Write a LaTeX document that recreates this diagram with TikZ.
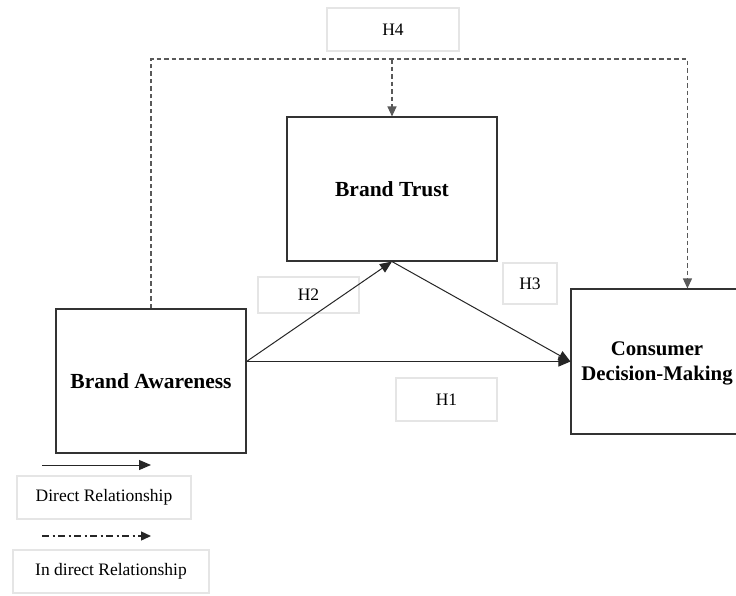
\documentclass[tikz,border=0pt]{standalone}
\usepackage{fontspec}
\setmainfont{Liberation Serif}
\usetikzlibrary{arrows.meta,calc}
\tikzset{
  mainbox/.style={draw=black!80, line width=1.1pt, fill=white, inner sep=0pt, align=center,
    font=\fontsize{21.5}{25}\selectfont\bfseries},
  maintext/.style={inner sep=0pt, align=center, font=\fontsize{20.8}{25}\selectfont\bfseries},
  labbox/.style={draw=black!10, line width=1.6pt, fill=white, inner sep=0pt, align=center,
    font=\fontsize{17.5}{21}\selectfont},
  solidarrow/.style={draw=black!85, line width=1pt, -{Triangle[length=12pt,width=10pt]}},
  dasharrow/.style={draw=black!65, line width=1.1pt, dash pattern=on 4.5pt off 3pt,
    -{Triangle[length=10pt,width=9pt]}},
  dotdasharrow/.style={draw=black!85, line width=1.4pt, dash pattern=on 7pt off 3.5pt on 2pt off 3.5pt,
    -{Triangle[length=10pt,width=9pt]}},
}
\begin{document}
\begin{tikzpicture}[x=1pt,y=-1pt]
\useasboundingbox (0,0) rectangle (736,595);
\clip (0,0) rectangle (736,595);
\fill[white] (0,0) rectangle (736,595);

% main boxes
\node[mainbox, minimum width=190pt, minimum height=144pt] (BA) at (151,381) {Brand Awareness};
\node[mainbox, minimum width=210pt, minimum height=144pt] (BT) at (392,189) {Brand Trust};
\node[mainbox, minimum width=177pt, minimum height=145pt] (CD) at (659.5,361.5) {};
\node[maintext] (CDtext) at (657,363) {Consumer\\Decision-Making};

% label boxes
\node[labbox, minimum width=132pt, minimum height=43pt] (H4) at (393,29.5) {H4};
\node[labbox, minimum width=101pt, minimum height=36pt] (H2) at (308.5,295) {H2};
\node[labbox, minimum width=54pt, minimum height=41pt] (H3) at (530,283.5) {H3};
\node[labbox, minimum width=101pt, minimum height=43pt] (H1) at (446.5,399.5) {H1};

% legend
\node[labbox, minimum width=174pt, minimum height=43pt] (LD) at (104,497.5) {Direct Relationship};
\node[labbox, minimum width=196pt, minimum height=43pt] (LI) at (111,571.5) {In direct Relationship};
\coordinate (l1a) at (42,465);
\coordinate (l1b) at (151,465);
\coordinate (l2a) at (42,536);
\coordinate (l2b) at (151,536);
\draw[solidarrow] (l1a) -- (l1b);
\draw[dotdasharrow] (l2a) -- (l2b);

% direct arrows
\coordinate (baout) at (BA.east |- CD.west);
\draw[solidarrow] (baout) -- (BT.south);
\draw[solidarrow] (BT.south) -- (CD.west);
\draw[solidarrow] (baout) -- (CD.west);

% indirect (dashed) path
\coordinate (cdtop) at ($(CD.north west)+(117,0)$);
\coordinate (topy) at (0,59);
\draw[dasharrow] (BA.north) -- (BA.north |- topy) -- (cdtop |- topy) -- (cdtop);
\draw[dasharrow] (BT.north |- topy) -- (BT.north);
\end{tikzpicture}
\end{document}
